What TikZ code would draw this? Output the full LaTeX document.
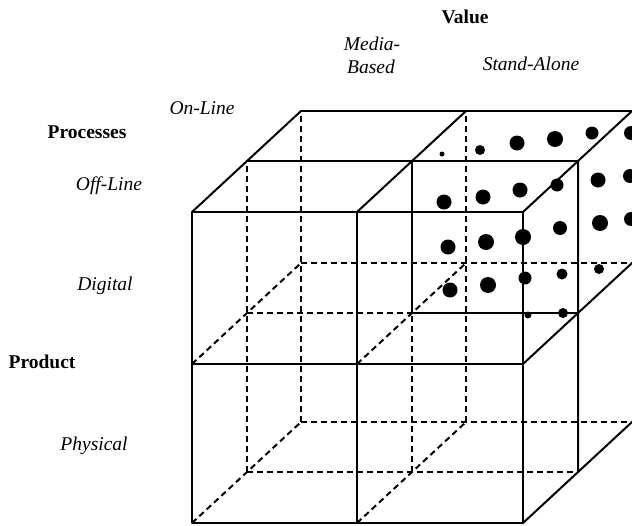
\documentclass[tikz,border=0pt]{standalone}
\usepackage{fontspec}
\setmainfont{Liberation Serif}
\begin{document}
\begin{tikzpicture}[x=1pt,y=-1pt,
  edge/.style={line width=2pt,line cap=round,line join=round},
  hidden/.style={line width=2pt,dash pattern=on 6pt off 4pt},
  lbl/.style={anchor=base,inner sep=0pt},
  bfl/.style={lbl,font=\fontsize{19.5}{23}\selectfont\bfseries},
  itl/.style={lbl,font=\fontsize{19.5}{23}\selectfont\itshape},
  blob/.style={fill=black}]
\useasboundingbox (0,0) rectangle (632,525);
\clip (0,0) rectangle (632,525);
% lattice points p<i><j><k>
\foreach \j/\yy in {0/523,1/364,2/212}
  \foreach \i/\xx in {0/192,1/357,2/523}
    \foreach \k/\dx/\dy in {0/0/0,1/55/51,2/109/101}
      \coordinate (p\i\j\k) at ({\xx+\dx},{\yy-\dy});
% hidden lines
\draw[hidden] (p001)--(p021) (p101)--(p111) (p002)--(p022) (p102)--(p122);
\draw[hidden] (p001)--(p201) (p011)--(p111) (p002)--(p202) (p012)--(p212);
\draw[hidden] (p000)--(p002) (p010)--(p012) (p100)--(p102) (p110)--(p112);
% visible lines
\draw[edge] (p000)--(p200)--(p220)--(p020)--cycle;
\draw[edge] (p100)--(p120) (p010)--(p210);
\draw[edge] (p020)--(p022) (p120)--(p122) (p220)--(p222);
\draw[edge] (p021)--(p221) (p022)--(p222);
\draw[edge] (p200)--(p202) (p210)--(p212) (p201)--(p221);
\draw[edge] (p111)--(p121) (p111)--(p211);
% dots of the highlighted cell
\foreach \x/\y/\r in {480/150/5,517/143/7.5,555/139/8,592/133/6.5,631/133/7,
  444/202/7.5,483/197/7.5,520/190/7.5,557/185/6.5,598/180/7.5,630/176/7,
  448/247/7.5,486/242/8,523/237/8,560/228/7,600/223/8,631/219/7,
  450/290/7.5,488/285/8,525/278/6.5,562/274/5.5,599/269/5,
  563/313/5,528/315/3.5,442/154/2.5}
  \fill[blob] (\x,\y) circle (\r);
% labels
\node[bfl] (value) at (465,23) {Value};
\node[itl] (media) at (372,50) {Media-};
\node[itl] (based) at (371,73) {Based};
\node[itl] (stand) at (531,70) {Stand-Alone};
\node[itl] (online) at (202,114) {On-Line};
\node[bfl] (proc) at (87,138) {Processes};
\node[itl] (offline) at (109,190) {Off-Line};
\node[itl] (digital) at (105,290) {Digital};
\node[bfl] (product) at (42,368) {Product};
\node[itl] (physical) at (94,450) {Physical};
\end{tikzpicture}
\end{document}
